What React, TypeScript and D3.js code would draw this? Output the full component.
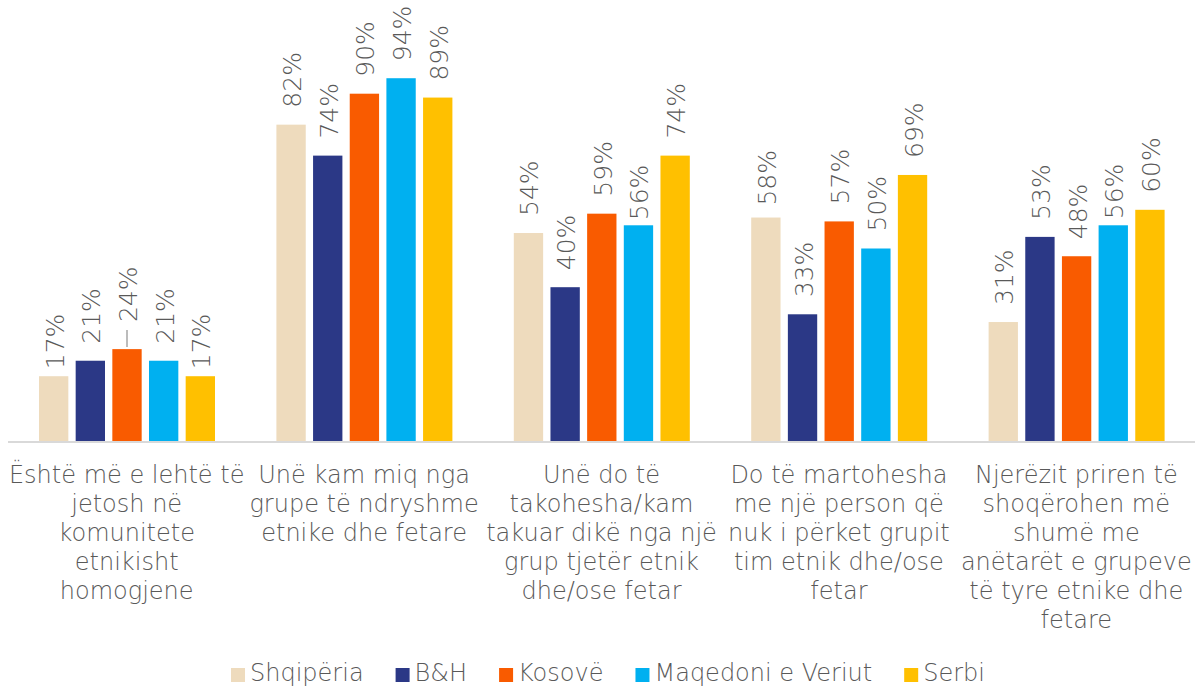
import { select, scaleBand, scaleLinear } from "d3";
import { useRef, useEffect } from "react";

// kategorie (pytania) - łamane ręcznie jak w oryginale
const categories = [
  ["Është më e lehtë të", "jetosh në", "komunitete", "etnikisht", "homogjene"],
  ["Unë kam miq nga", "grupe të ndryshme", "etnike dhe fetare"],
  ["Unë do të", "takohesha/kam", "takuar dikë nga një", "grup tjetër etnik", "dhe/ose fetar"],
  ["Do të martohesha", "me një person që", "nuk i përket grupit", "tim etnik dhe/ose", "fetar"],
  ["Njerëzit priren të", "shoqërohen më", "shumë me", "anëtarët e grupeve", "të tyre etnike dhe", "fetare"],
];

const seriesNames = ["Shqipëria", "B&H", "Kosovë", "Maqedoni e Veriut", "Serbi"];
const colors = ["#EEDBBD", "#2B3886", "#F95B00", "#00B0F0", "#FFC000"];

const shqiperia = [17, 82, 54, 58, 31];
const bh = [21, 74, 40, 33, 53];
const kosove = [24, 90, 59, 57, 48];
const maqedoni = [21, 94, 56, 50, 56];
const serbi = [17, 89, 74, 69, 60];

const values = [shqiperia, bh, kosove, maqedoni, serbi];

const W = 1195;
const H = 686;
const FONT = "'DejaVu Sans', sans-serif";
const TEXT = "#595959";

// etykiety które w oryginale siedzą bliżej słupka ("seria-kategoria": odstęp)
const labelGapOverride: Record<string, number> = {
  "0-0": 7,
  "4-0": 7,
  "2-0": 27,
  "3-2": 5,
  "3-4": 6,
  "0-3": 12,
};

const App = () => {
  const svgRef = useRef<SVGSVGElement>(null);

  useEffect(() => {
    const svg = select(svgRef.current);
    svg.selectAll("*").remove();

    const x0 = scaleBand<number>()
      .domain(categories.map((_, i) => i))
      .range([8, W]);
    const x1 = scaleBand<number>()
      .domain(seriesNames.map((_, i) => i))
      .range([31, 207])
      .paddingInner(0.2);
    const y = scaleLinear().domain([0, 100]).range([442, 55]);

    // słupki + etykiety
    values.forEach((vals, s) => {
      vals.forEach((v, c) => {
        const bx = x0(c)! + x1(s)!;
        const cx = bx + x1.bandwidth() / 2;
        svg
          .append("rect")
          .attr("x", bx)
          .attr("y", y(v))
          .attr("width", x1.bandwidth())
          .attr("height", y(0) - y(v))
          .attr("fill", colors[s]);

        const key = `${s}-${c}`;
        const gap = labelGapOverride[key] ?? 17;
        // 24% ma linię odnośnika
        if (s === 2 && c === 0) {
          svg
            .append("line")
            .attr("x1", cx)
            .attr("x2", cx)
            .attr("y1", y(v) - 2)
            .attr("y2", y(v) - 19)
            .attr("stroke", "#a6a6a6")
            .attr("stroke-width", 1.5);
        }
        svg
          .append("text")
          .attr("transform", `translate(${cx + 10},${y(v) - gap}) rotate(-90)`)
          .attr("font-family", FONT)
          .attr("font-size", 25)
          .attr("font-weight", 300)
          .attr("fill", TEXT)
          .text(v + "%");
      });
    });

    // oś
    svg
      .append("line")
      .attr("x1", 8)
      .attr("x2", W)
      .attr("y1", 442)
      .attr("y2", 442)
      .attr("stroke", "#d9d9d9")
      .attr("stroke-width", 2);

    // etykiety kategorii
    categories.forEach((lines, c) => {
      const t = svg
        .append("text")
        .attr("font-family", FONT)
        .attr("font-size", 24)
        .attr("font-weight", 300)
        .attr("fill", TEXT)
        .attr("text-anchor", "middle");
      lines.forEach((l, i) => {
        t.append("tspan")
          .attr("x", x0(c)! + x0.bandwidth() / 2)
          .attr("y", 483 + i * 29)
          .text(l);
      });
    });

    // legenda
    let lx = 231;
    seriesNames.forEach((name, s) => {
      svg
        .append("rect")
        .attr("x", lx)
        .attr("y", 668)
        .attr("width", 14)
        .attr("height", 14)
        .attr("fill", colors[s]);
      const t = svg
        .append("text")
        .attr("x", lx + 19)
        .attr("y", 681)
        .attr("font-family", FONT)
        .attr("font-size", 24)
        .attr("font-weight", 300)
        .attr("fill", TEXT)
        .text(name);
      const w = (t.node() as SVGTextElement).getComputedTextLength();
      lx += 19 + w + 32;
    });
  }, []);

  return (
    <svg
      ref={svgRef}
      width={W}
      height={H}
      style={{ position: "absolute", left: 0, top: 0, background: "#fff" }}
    ></svg>
  );
};

export default App;
